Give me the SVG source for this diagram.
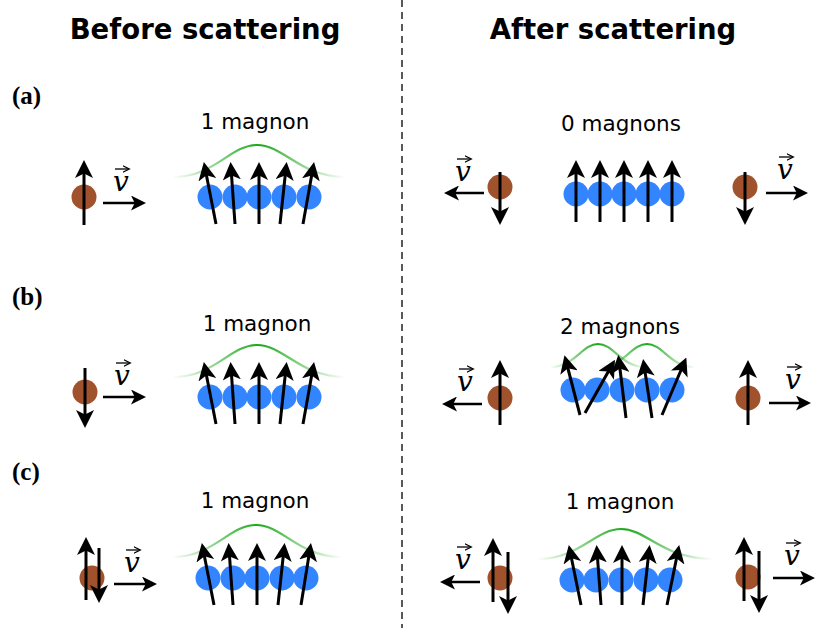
<svg xmlns="http://www.w3.org/2000/svg" width="830" height="628" viewBox="0 0 830 628">
<style>
.h{font-family:"DejaVu Sans",sans-serif;font-weight:bold;font-size:27.5px;text-anchor:middle}
.lab{font-family:"Liberation Serif",serif;font-weight:bold;font-size:25px}
.m{font-family:"DejaVu Sans",sans-serif;font-size:21.5px;text-anchor:middle}
.v{font-family:"DejaVu Serif",serif;font-style:italic;font-size:28px;text-anchor:middle}
.e{fill:#a0522d}
.s{fill:#3385ff}
.a{stroke:#000;stroke-width:3;fill:none;marker-end:url(#ah)}
.va{stroke:#000;stroke-width:2.5;fill:none;marker-end:url(#ah)}
.va2{stroke:#000;stroke-width:1.3;fill:none;marker-end:url(#ah3)}
.g{fill:none;stroke:url(#gg);stroke-width:2.2}
</style>
<defs>
<marker id="ah" markerWidth="6" markerHeight="6" refX="4" refY="3" orient="auto" markerUnits="strokeWidth"><path d="M0,0 L6,3 L0,6 L1.5,3 Z" fill="#000"/></marker>
<marker id="ah3" markerWidth="6" markerHeight="6" refX="4" refY="3" orient="auto" markerUnits="strokeWidth"><path d="M0,0.5 L5,3 L0,5.5" fill="none" stroke="#000" stroke-width="1"/></marker>
<linearGradient id="gg" x1="0" x2="1" y1="0" y2="0">
<stop offset="0" stop-color="#1aa81a" stop-opacity="0"/>
<stop offset="0.5" stop-color="#1aa81a" stop-opacity="1"/>
<stop offset="1" stop-color="#1aa81a" stop-opacity="0"/>
</linearGradient>
<g id="vel"><text class="v" x="0" y="0">v</text><path class="va2" d="M-6,-22 L7,-22"/></g>
</defs>
<text class="h" x="205" y="39">Before scattering</text>
<text class="h" x="613" y="39">After scattering</text>
<line x1="402" y1="0" x2="402" y2="628" stroke="#000" stroke-width="1.3" stroke-dasharray="7,5"/>
<text class="lab" x="12" y="104">(a)</text>
<text class="lab" x="12" y="305">(b)</text>
<text class="lab" x="12" y="480">(c)</text>

<g id="a-left">
<circle class="e" cx="84" cy="197" r="12.5"/>
<path class="a" d="M84,225 L84,166"/>
<path class="va" d="M103,203 L141,203"/>
<use href="#vel" x="121" y="191"/>
<text class="m" x="255" y="129">1 magnon</text>
<path class="g" d="M173,177 C215,177 230,145 257,145 C284,145 300,177 345,177"/>
<circle class="s" cx="210" cy="197" r="12.5"/><circle class="s" cx="235" cy="197" r="12.5"/><circle class="s" cx="259" cy="197" r="12.5"/><circle class="s" cx="284" cy="197" r="12.5"/><circle class="s" cx="309" cy="197" r="12.5"/>
<path class="a" d="M216,224 L205,168"/><path class="a" d="M235,224 L231,168"/><path class="a" d="M259,224 L259,168"/><path class="a" d="M280,224 L286,168"/><path class="a" d="M303,224 L313,168"/>
</g>
<g id="a-right">
<text class="m" x="621" y="131">0 magnons</text>
<circle class="e" cx="500" cy="187" r="12.5"/>
<path class="a" d="M500,172 L500,219"/>
<path class="va" d="M484,193 L449,193"/>
<use href="#vel" x="463" y="181"/>
<circle class="s" cx="576" cy="194" r="12.5"/><circle class="s" cx="600" cy="194" r="12.5"/><circle class="s" cx="624" cy="194" r="12.5"/><circle class="s" cx="648" cy="194" r="12.5"/><circle class="s" cx="672" cy="194" r="12.5"/>
<path class="a" d="M576,222 L576,166"/><path class="a" d="M600,222 L600,166"/><path class="a" d="M624,222 L624,166"/><path class="a" d="M648,222 L648,166"/><path class="a" d="M672,222 L672,166"/>
<circle class="e" cx="745" cy="187" r="12.5"/>
<path class="a" d="M745,172 L745,219"/>
<path class="va" d="M766,193 L803,193"/>
<use href="#vel" x="785" y="179"/>
</g>

<g id="b-left">
<circle class="e" cx="85" cy="392" r="12.5"/>
<path class="a" d="M85,368 L85,422"/>
<path class="va" d="M103,397 L141,397"/>
<use href="#vel" x="122" y="385"/>
<text class="m" x="257" y="331">1 magnon</text>
<path class="g" d="M173,377 C215,377 230,345 257,345 C284,345 300,377 345,377"/>
<circle class="s" cx="210" cy="397" r="12.5"/><circle class="s" cx="235" cy="397" r="12.5"/><circle class="s" cx="259" cy="397" r="12.5"/><circle class="s" cx="284" cy="397" r="12.5"/><circle class="s" cx="309" cy="397" r="12.5"/>
<path class="a" d="M216,424 L205,368"/><path class="a" d="M235,424 L231,368"/><path class="a" d="M259,424 L259,368"/><path class="a" d="M280,424 L286,368"/><path class="a" d="M303,424 L313,368"/>
</g>
<g id="b-right">
<text class="m" x="620" y="334">2 magnons</text>
<circle class="e" cx="500" cy="398" r="12.5"/>
<path class="a" d="M500,425 L500,366"/>
<path class="va" d="M482,404 L447,404"/>
<use href="#vel" x="465" y="391"/>
<path class="g" d="M550,367 C575,367 582,344 598,344 C614,344 621,367 646,367"/>
<path class="g" d="M599,367 C624,367 631,344 647,344 C663,344 670,367 695,367"/>
<circle class="s" cx="573" cy="390" r="12.5"/><circle class="s" cx="597" cy="390" r="12.5"/><circle class="s" cx="622" cy="390" r="12.5"/><circle class="s" cx="647" cy="390" r="12.5"/><circle class="s" cx="672" cy="390" r="12.5"/>
<path class="a" d="M580,415 L566,361"/><path class="a" d="M585,413 L612,365"/><path class="a" d="M626,418 L619,361"/><path class="a" d="M652,418 L644,365"/><path class="a" d="M662,415 L684,363"/>
<circle class="e" cx="748" cy="398" r="12.5"/>
<path class="a" d="M748,425 L748,366"/>
<path class="va" d="M769,403 L806,403"/>
<use href="#vel" x="793" y="389"/>
</g>

<g id="c-left">
<circle class="e" cx="92" cy="578" r="12.5"/>
<path class="a" d="M86,600 L86,543"/>
<path class="a" d="M99,548 L99,597"/>
<path class="va" d="M114,584 L152,584"/>
<use href="#vel" x="132" y="572"/>
<text class="m" x="255" y="508">1 magnon</text>
<path class="g" d="M172,557 C214,557 229,525 256,525 C283,525 298,557 342,557"/>
<circle class="s" cx="208" cy="578" r="12.5"/><circle class="s" cx="233" cy="578" r="12.5"/><circle class="s" cx="257" cy="578" r="12.5"/><circle class="s" cx="282" cy="578" r="12.5"/><circle class="s" cx="306" cy="578" r="12.5"/>
<path class="a" d="M214,605 L203,549"/><path class="a" d="M233,605 L229,549"/><path class="a" d="M257,605 L257,549"/><path class="a" d="M278,605 L284,549"/><path class="a" d="M301,605 L310,549"/>
</g>
<g id="c-right">
<text class="m" x="620" y="509">1 magnon</text>
<circle class="e" cx="500" cy="578" r="12.5"/>
<path class="a" d="M493,602 L493,544"/>
<path class="a" d="M508,552 L508,608"/>
<path class="va" d="M480,582 L445,582"/>
<use href="#vel" x="463" y="569"/>
<path class="g" d="M537,559 C580,559 595,529 621,529 C647,529 662,559 713,559"/>
<circle class="s" cx="572" cy="580" r="12.5"/><circle class="s" cx="596" cy="580" r="12.5"/><circle class="s" cx="621" cy="580" r="12.5"/><circle class="s" cx="646" cy="580" r="12.5"/><circle class="s" cx="670" cy="580" r="12.5"/>
<path class="a" d="M581,605 L570,551"/><path class="a" d="M601,605 L597,551"/><path class="a" d="M622,605 L622,551"/><path class="a" d="M643,605 L649,551"/><path class="a" d="M667,605 L678,551"/>
<circle class="e" cx="748" cy="577" r="12.5"/>
<path class="a" d="M744,601 L744,543"/>
<path class="a" d="M759,551 L759,607"/>
<path class="va" d="M773,578 L810,578"/>
<use href="#vel" x="792" y="565"/>
</g>
</svg>
